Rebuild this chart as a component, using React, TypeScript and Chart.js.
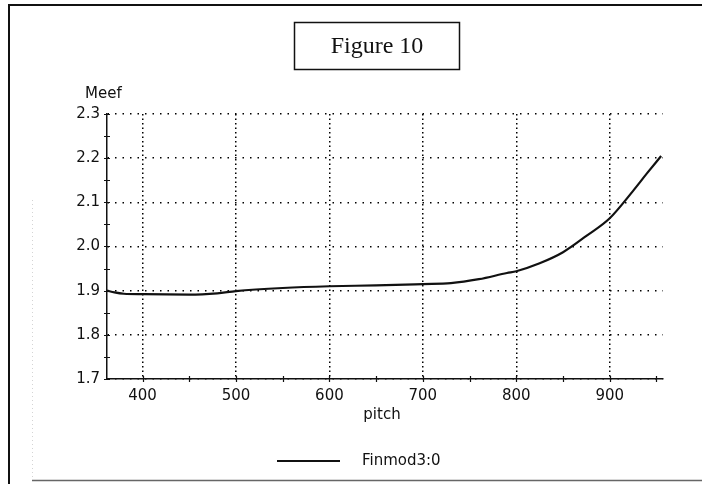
import React, { useEffect, useRef } from "react";
import { Chart, registerables } from "chart.js";

Chart.register(...registerables);

// Finmod3:0 curve, Meef against pitch
const PITCH = [362, 370, 380, 400, 450, 480, 500, 550, 600, 650, 700, 730, 760, 790, 800, 825, 850, 875, 900, 925, 940, 955];
const MEEF = [1.9, 1.896, 1.893, 1.892, 1.891, 1.894, 1.899, 1.906, 1.91, 1.912, 1.915, 1.917, 1.926, 1.94, 1.944, 1.962, 1.987, 2.024, 2.064, 2.126, 2.166, 2.205];

const X_MAJOR = [400, 500, 600, 700, 800, 900];
const X_MINOR = [450, 550, 650, 750, 850, 950];
const Y_MAJOR = [1.7, 1.8, 1.9, 2.0, 2.1, 2.2, 2.3];
const Y_MINOR = [1.75, 1.85, 1.95, 2.05, 2.15, 2.25];

const X_MIN = 362;
const X_MAX = 957;
const Y_MIN = 1.7;
const Y_MAX = 2.3;

const TITLE = "Figure 10";
const X_TITLE = "pitch";
const Y_TITLE = "Meef";
const SERIES_NAME = "Finmod3:0";

const SANS = '"DejaVu Sans", sans-serif';
const SERIF = '"Liberation Serif", "Times New Roman", serif';

const decorations = {
  id: "decorations",
  beforeDraw(chart: any) {
    const { ctx, width, height } = chart;
    ctx.save();
    ctx.fillStyle = "#ffffff";
    ctx.fillRect(0, 0, width, height);
    ctx.restore();
  },
  afterDraw(chart: any) {
    const { ctx, chartArea } = chart;
    const xs = chart.scales.x;
    const ys = chart.scales.y;
    ctx.save();

    // page frame
    ctx.strokeStyle = "#111";
    ctx.lineWidth = 2;
    ctx.beginPath();
    ctx.moveTo(9, 484);
    ctx.lineTo(9, 5);
    ctx.lineTo(702, 5);
    ctx.stroke();
    ctx.strokeStyle = "#666";
    ctx.lineWidth = 1.5;
    ctx.beginPath();
    ctx.moveTo(32, 480.5);
    ctx.lineTo(702, 480.5);
    ctx.stroke();
    ctx.strokeStyle = "#d4d4d4";
    ctx.lineWidth = 1;
    ctx.setLineDash([1, 3]);
    ctx.beginPath();
    ctx.moveTo(32.5, 200);
    ctx.lineTo(32.5, 478);
    ctx.stroke();
    ctx.setLineDash([]);

    // title box
    ctx.strokeStyle = "#111";
    ctx.lineWidth = 1.5;
    ctx.strokeRect(294.5, 22.5, 165, 47);
    ctx.fillStyle = "#111";
    ctx.font = `24px ${SERIF}`;
    ctx.textAlign = "center";
    ctx.textBaseline = "middle";
    ctx.fillText(TITLE, 377, 47);

    // axis titles
    ctx.font = `15px ${SANS}`;
    ctx.textAlign = "left";
    ctx.fillText(Y_TITLE, 85, 94);
    ctx.textAlign = "center";
    ctx.fillText(X_TITLE, 382, 415);

    // tick crosses on both axes
    ctx.strokeStyle = "#111";
    ctx.lineWidth = 1.2;
    ctx.beginPath();
    for (const v of [...X_MAJOR, ...X_MINOR]) {
      const px = Math.round(xs.getPixelForValue(v)) + 0.5;
      ctx.moveTo(px, chartArea.bottom - 3);
      ctx.lineTo(px, chartArea.bottom + 3);
    }
    for (const v of [...Y_MAJOR, ...Y_MINOR]) {
      const py = Math.round(ys.getPixelForValue(v)) + 0.5;
      ctx.moveTo(chartArea.left - 3, py);
      ctx.lineTo(chartArea.left + 3, py);
    }
    ctx.stroke();

    // legend
    ctx.strokeStyle = "#111";
    ctx.lineWidth = 2;
    ctx.beginPath();
    ctx.moveTo(277, 461);
    ctx.lineTo(340, 461);
    ctx.stroke();
    ctx.fillStyle = "#111";
    ctx.font = `15px ${SANS}`;
    ctx.textAlign = "left";
    ctx.textBaseline = "middle";
    ctx.fillText(SERIES_NAME, 362, 461);

    ctx.restore();
  },
};

export default function App() {
  const canvasRef = useRef<HTMLCanvasElement | null>(null);

  useEffect(() => {
    const canvas = canvasRef.current;
    if (!canvas) return;
    const chart = new Chart(canvas, {
      type: "line",
      data: {
        datasets: [
          {
            label: SERIES_NAME,
            data: PITCH.map((p, i) => ({ x: p, y: MEEF[i] })),
            borderColor: "#111",
            borderWidth: 2.2,
            pointRadius: 0,
            fill: false,
            cubicInterpolationMode: "monotone",
          },
        ],
      },
      options: {
        responsive: false,
        animation: false,
        devicePixelRatio: 1,
        layout: { padding: { top: 114, right: 39, bottom: 0, left: 0 } },
        plugins: {
          legend: { display: false },
          title: { display: false },
          tooltip: { enabled: false },
        },
        scales: {
          x: {
            type: "linear",
            min: X_MIN,
            max: X_MAX,
            afterBuildTicks: (scale: any) => {
              scale.ticks = X_MAJOR.map((v) => ({ value: v }));
            },
            afterFit: (scale: any) => {
              scale.height = 105;
            },
            ticks: {
              autoSkip: false,
              maxRotation: 0,
              padding: 8,
              color: "#111",
              font: { family: SANS, size: 15 },
              callback: (v: any) => String(v),
            },
            grid: {
              drawTicks: false,
              color: "#000",
              lineWidth: 1.5,
            },
            border: { display: true, color: "#111", width: 1.5, dash: [1.5, 3] },
          },
          y: {
            type: "linear",
            min: Y_MIN,
            max: Y_MAX,
            afterBuildTicks: (scale: any) => {
              scale.ticks = Y_MAJOR.map((v) => ({ value: v }));
            },
            afterFit: (scale: any) => {
              scale.width = 107;
            },
            ticks: {
              autoSkip: false,
              padding: 7,
              color: "#111",
              font: { family: SANS, size: 15 },
              callback: (v: any) => Number(v).toFixed(1),
            },
            grid: {
              drawTicks: false,
              color: "#000",
              lineWidth: 1.5,
            },
            border: { display: true, color: "#111", width: 1.5, dash: [1.5, 6] },
          },
        },
      },
      plugins: [decorations],
    });
    return () => chart.destroy();
  }, []);

  return (
    <div style={{ position: "absolute", left: 0, top: 0, width: 702, height: 484, background: "#fff" }}>
      <canvas ref={canvasRef} width={702} height={484} style={{ display: "block" }} />
    </div>
  );
}
